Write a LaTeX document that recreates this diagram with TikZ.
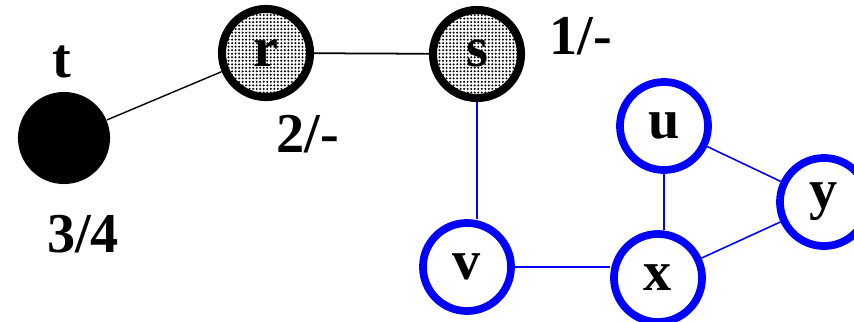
\documentclass[tikz,border=0pt]{standalone}
\usepackage{fontspec}
\setmainfont{Liberation Serif}
\usetikzlibrary{patterns.meta}

\begin{document}
\begin{tikzpicture}[x=0.01cm, y=-0.01cm,
        every node/.style={font=\fontsize{16}{18}\selectfont\bfseries},
        done/.style={circle, fill=black, inner sep=0pt, minimum size=0.92cm},
        seen/.style={circle, draw=black, line width=2.3pt, inner sep=0pt,
                     minimum size=0.88cm,
                     pattern={Dots[distance=1pt, radius=0.32pt]}},
        fresh/.style={circle, draw=blue, line width=2.2pt, inner sep=0pt,
                      minimum size=0.88cm},
        tree/.style={black, line width=0.5pt},
        ed/.style={blue, line width=0.8pt},
        thin/.style={blue, line width=0.45pt}]
      \useasboundingbox (0,0) rectangle (854,321);
      % visited and grey vertices
      \node[done] (t) at (64,138) {};
      \node[seen] (r) at (266,53) {r};
      \node[seen] (s) at (477,54) {s};
      % untouched vertices
      \node[fresh] (u) at (664,126) {u};
      \node[fresh] (v) at (467,267) {v};
      \node[fresh] (x) at (658,278) {x};
      \node[fresh] (y) at (824,202) {y};
      % time stamps
      \node (tname) at (62,62) {t};
      \node (tlab) at (83,234) {3/4};
      \node (rlab) at (308,134) {2/-};
      \node (slab) at (581,36) {1/-};
      % edges
      \draw[tree, line width=0.4pt] (t) -- (r);
      \draw[tree] (r) -- (s);
      \draw[ed] (s.south) -- (s.south |- v.north);
      \draw[ed] (v) -- (x.west |- v);
      \draw[ed] (u.south) -- (u.south |- x.north);
      \draw[thin] (u) -- (y);
      \draw[thin] (x) -- (y);
    \end{tikzpicture}
\end{document}
